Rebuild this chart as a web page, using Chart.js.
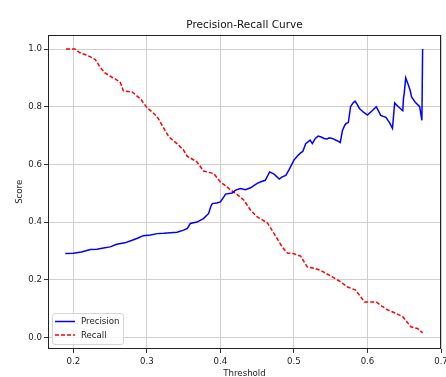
<!DOCTYPE html>
<html>
<head>
<meta charset="utf-8">
<script src="https://cdn.jsdelivr.net/npm/chart.js@4/dist/chart.umd.min.js"></script>
<style>
  html, body { margin: 0; padding: 0; background: #fff; }
  #wrap { width: 446px; height: 377px; }
</style>
</head>
<body>
<div id="wrap"><canvas id="c"></canvas></div>
<script>
// thresholds / scores
const precisionThresholds = [0.189, 0.200, 0.211, 0.223, 0.232, 0.241, 0.250, 0.259, 0.270, 0.280, 0.288, 0.295, 0.305, 0.314, 0.323, 0.332, 0.341, 0.350, 0.355, 0.359, 0.368, 0.377, 0.384, 0.387, 0.389, 0.395, 0.400, 0.404, 0.407, 0.416, 0.420, 0.427, 0.434, 0.441, 0.450, 0.455, 0.461, 0.467, 0.473, 0.480, 0.484, 0.489, 0.493, 0.500, 0.505, 0.509, 0.512, 0.516, 0.522, 0.525, 0.529, 0.533, 0.537, 0.541, 0.545, 0.548, 0.552, 0.558, 0.563, 0.566, 0.569, 0.571, 0.574, 0.577, 0.580, 0.583, 0.586, 0.589, 0.595, 0.600, 0.606, 0.612, 0.618, 0.625, 0.630, 0.634, 0.637, 0.642, 0.648, 0.649, 0.650, 0.652, 0.655, 0.658, 0.660, 0.665, 0.671, 0.674, 0.675];
const precisionValues = [0.291, 0.292, 0.296, 0.305, 0.306, 0.310, 0.314, 0.323, 0.328, 0.337, 0.345, 0.353, 0.355, 0.360, 0.361, 0.363, 0.365, 0.372, 0.378, 0.395, 0.400, 0.412, 0.430, 0.455, 0.464, 0.466, 0.470, 0.485, 0.497, 0.501, 0.510, 0.516, 0.512, 0.519, 0.534, 0.540, 0.545, 0.574, 0.566, 0.549, 0.557, 0.562, 0.580, 0.615, 0.630, 0.640, 0.645, 0.672, 0.684, 0.672, 0.690, 0.698, 0.695, 0.690, 0.688, 0.692, 0.690, 0.683, 0.676, 0.718, 0.735, 0.742, 0.745, 0.800, 0.812, 0.819, 0.808, 0.794, 0.780, 0.771, 0.785, 0.800, 0.770, 0.763, 0.745, 0.725, 0.813, 0.800, 0.786, 0.830, 0.846, 0.900, 0.880, 0.857, 0.834, 0.815, 0.800, 0.753, 1.000];
const recallThresholds = [0.190, 0.202, 0.209, 0.218, 0.224, 0.230, 0.236, 0.243, 0.252, 0.258, 0.264, 0.268, 0.280, 0.291, 0.300, 0.307, 0.314, 0.322, 0.330, 0.341, 0.350, 0.355, 0.368, 0.377, 0.391, 0.400, 0.409, 0.414, 0.423, 0.432, 0.441, 0.450, 0.464, 0.473, 0.484, 0.491, 0.500, 0.509, 0.518, 0.527, 0.536, 0.552, 0.562, 0.573, 0.584, 0.596, 0.612, 0.620, 0.628, 0.640, 0.648, 0.659, 0.668, 0.675];
const recallValues = [1.000, 1.000, 0.987, 0.979, 0.972, 0.963, 0.938, 0.917, 0.903, 0.895, 0.883, 0.855, 0.851, 0.828, 0.797, 0.782, 0.765, 0.730, 0.695, 0.672, 0.649, 0.628, 0.609, 0.577, 0.568, 0.539, 0.522, 0.511, 0.495, 0.476, 0.441, 0.418, 0.397, 0.360, 0.314, 0.293, 0.290, 0.282, 0.245, 0.240, 0.233, 0.210, 0.195, 0.175, 0.164, 0.123, 0.123, 0.108, 0.095, 0.082, 0.072, 0.037, 0.031, 0.016];
const xTicks = [0.2, 0.3, 0.4, 0.5, 0.6, 0.7];
const yTicks = [0.0, 0.2, 0.4, 0.6, 0.8, 1.0];

const FONT = "'DejaVu Sans', sans-serif";
const toPoints = (xs, ys) => xs.map((x, i) => ({ x, y: ys[i] }));

// matplotlib-like frame around the axes
const framePlugin = {
  id: 'frame',
  afterDatasetsDraw(chart) {
    const { ctx, chartArea: a } = chart;
    ctx.save();
    ctx.strokeStyle = '#222';
    ctx.lineWidth = 1;
    ctx.strokeRect(Math.round(a.left) + 0.5, Math.round(a.top) + 0.5,
      Math.round(a.right - a.left) - 1, Math.round(a.bottom - a.top) - 1);
    ctx.restore();
  }
};

// legend box in the lower left of the axes
const boxLegend = {
  id: 'boxLegend',
  afterDraw(chart) {
    const { ctx, chartArea: a } = chart;
    const x0 = a.left + 4, y0 = a.bottom - 36, w = 71, h = 31;
    ctx.save();
    ctx.beginPath();
    ctx.roundRect(x0 + 0.5, y0 + 0.5, w, h, 2.5);
    ctx.fillStyle = 'rgba(255,255,255,0.8)';
    ctx.fill();
    ctx.strokeStyle = '#d6d6d6';
    ctx.lineWidth = 1;
    ctx.stroke();
    ctx.font = '8.6px ' + FONT;
    ctx.textBaseline = 'middle';
    chart.data.datasets.forEach((ds, i) => {
      const y = y0 + 8.5 + i * 13.5;
      ctx.beginPath();
      ctx.setLineDash(ds.borderDash || []);
      ctx.strokeStyle = ds.borderColor;
      ctx.lineWidth = ds.borderWidth;
      ctx.moveTo(x0 + 3, y);
      ctx.lineTo(x0 + 23, y);
      ctx.stroke();
      ctx.setLineDash([]);
      ctx.fillStyle = '#222';
      ctx.fillText(ds.label, x0 + 29, y + 0.5);
    });
    ctx.restore();
  }
};

new Chart(document.getElementById('c'), {
  type: 'line',
  data: {
    datasets: [
      {
        label: 'Precision',
        data: toPoints(precisionThresholds, precisionValues),
        borderColor: '#0000ff',
        borderWidth: 1.5,
        pointRadius: 0,
        tension: 0,
        fill: false
      },
      {
        label: 'Recall',
        data: toPoints(recallThresholds, recallValues),
        borderColor: '#ff0000',
        borderWidth: 1.5,
        borderDash: [4, 2],
        pointRadius: 0,
        tension: 0,
        fill: false
      }
    ]
  },
  options: {
    responsive: true,
    maintainAspectRatio: false,
    animation: false,
    layout: { padding: 0 },
    plugins: {
      legend: { display: false },
      tooltip: { enabled: false },
      title: {
        display: true,
        fullSize: false,
        text: 'Precision-Recall Curve',
        color: '#111',
        font: { family: FONT, size: 10.5, weight: 'normal' },
        padding: { top: 19, bottom: 3 }
      }
    },
    scales: {
      x: {
        type: 'linear',
        min: 0.1655,
        max: 0.7,
        afterBuildTicks: (s) => { s.ticks = xTicks.map(v => ({ value: v })); },
        afterFit: (s) => { s.height = 28; s.paddingRight = 5; s.paddingLeft = 0; },
        ticks: {
          color: '#222',
          padding: 4,
          maxRotation: 0,
          font: { family: FONT, size: 8.6 },
          callback: (v) => v.toFixed(1)
        },
        grid: { color: '#cfcfcf', lineWidth: 1, tickLength: 4, tickColor: '#333' },
        border: { display: false },
        title: {
          display: true,
          text: 'Threshold',
          color: '#222',
          font: { family: FONT, size: 8.6 },
          padding: { top: 0, bottom: -2 }
        }
      },
      y: {
        min: -0.04,
        max: 1.05,
        afterBuildTicks: (s) => { s.ticks = yTicks.map(v => ({ value: v })); },
        afterFit: (s) => { s.width = 48; },
        ticks: {
          color: '#222',
          padding: 2,
          font: { family: FONT, size: 8.6 },
          callback: (v) => v.toFixed(1)
        },
        grid: { color: '#cfcfcf', lineWidth: 1, tickLength: 4, tickColor: '#333' },
        border: { display: false },
        title: {
          display: true,
          text: 'Score',
          color: '#222',
          font: { family: FONT, size: 8.6 },
          padding: { top: 15, bottom: 0 }
        }
      }
    }
  },
  plugins: [framePlugin, boxLegend]
});
</script>
</body>
</html>
